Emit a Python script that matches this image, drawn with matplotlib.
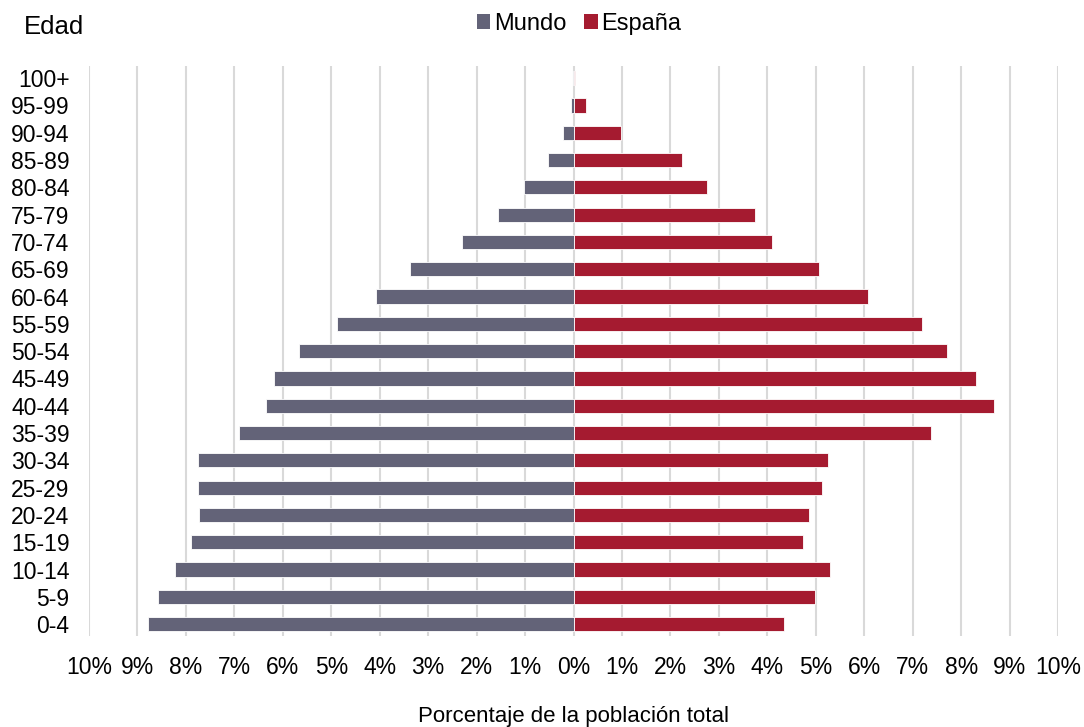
import matplotlib
matplotlib.use("Agg")
import matplotlib.pyplot as plt
from matplotlib.patches import Patch

plt.rcParams['font.family'] = ['Liberation Sans', 'DejaVu Sans']

age_groups = ["0-4", "5-9", "10-14", "15-19", "20-24", "25-29", "30-34", "35-39",
              "40-44", "45-49", "50-54", "55-59", "60-64", "65-69", "70-74", "75-79",
              "80-84", "85-89", "90-94", "95-99", "100+"]
mundo = [8.78, 8.57, 8.22, 7.89, 7.73, 7.75, 7.75, 6.90, 6.34, 6.18, 5.66, 4.88,
         4.07, 3.37, 2.31, 1.55, 1.03, 0.52, 0.21, 0.06, 0.01]
espana = [4.34, 4.98, 5.29, 4.73, 4.86, 5.12, 5.25, 7.38, 8.68, 8.31, 7.71, 7.19,
          6.07, 5.06, 4.09, 3.74, 2.75, 2.23, 0.97, 0.25, 0.04]
x_ticks = list(range(-10, 11))
x_tick_labels = [f"{abs(t)}%" for t in x_ticks]

c_mundo = "#636378"
c_espana = "#A51B30"

fig = plt.figure(figsize=(10.84, 7.27), dpi=100)
ax = fig.add_axes([0.0821, 0.125, 0.894, 0.784])

ypos = list(range(len(age_groups)))
ax.barh(ypos, [-v for v in mundo], height=0.52, color=c_mundo, edgecolor="white",
        linewidth=0.6, zorder=3)
ax.barh(ypos, espana, height=0.52, color=c_espana, edgecolor="white",
        linewidth=0.6, zorder=3)

ax.set_xlim(-10, 10)
ax.set_ylim(-0.44, 20.44)
ax.set_xticks(x_ticks)
ax.set_xticklabels(x_tick_labels, fontsize=16.5)
ax.set_yticks(ypos)
ax.set_yticklabels(age_groups, fontsize=16.5)
ax.tick_params(axis='both', length=0, colors="#000000")
ax.tick_params(axis='x', pad=14)
ax.tick_params(axis='y', pad=14)
ax.grid(axis='x', color="#d9d9d9", linewidth=1.5, zorder=0)
ax.set_axisbelow(True)
for s in ax.spines.values():
    s.set_visible(False)

ax.set_xlabel("Porcentaje de la población total", fontsize=16, labelpad=20)

fig.text(24/1084, 1 - 27/727, "Edad", fontsize=18.5, ha="left", va="center")

handles = [Patch(facecolor=c_mundo, label="Mundo"), Patch(facecolor=c_espana, label="España")]
fig.legend(handles=handles, loc="center", bbox_to_anchor=(579/1084, 1 - 24/727), ncol=2,
           frameon=False, fontsize=17, handlelength=0.58, handleheight=0.58,
           handletextpad=0.15, columnspacing=0.75, borderpad=0.2)

fig.savefig("out.png", dpi=100)
